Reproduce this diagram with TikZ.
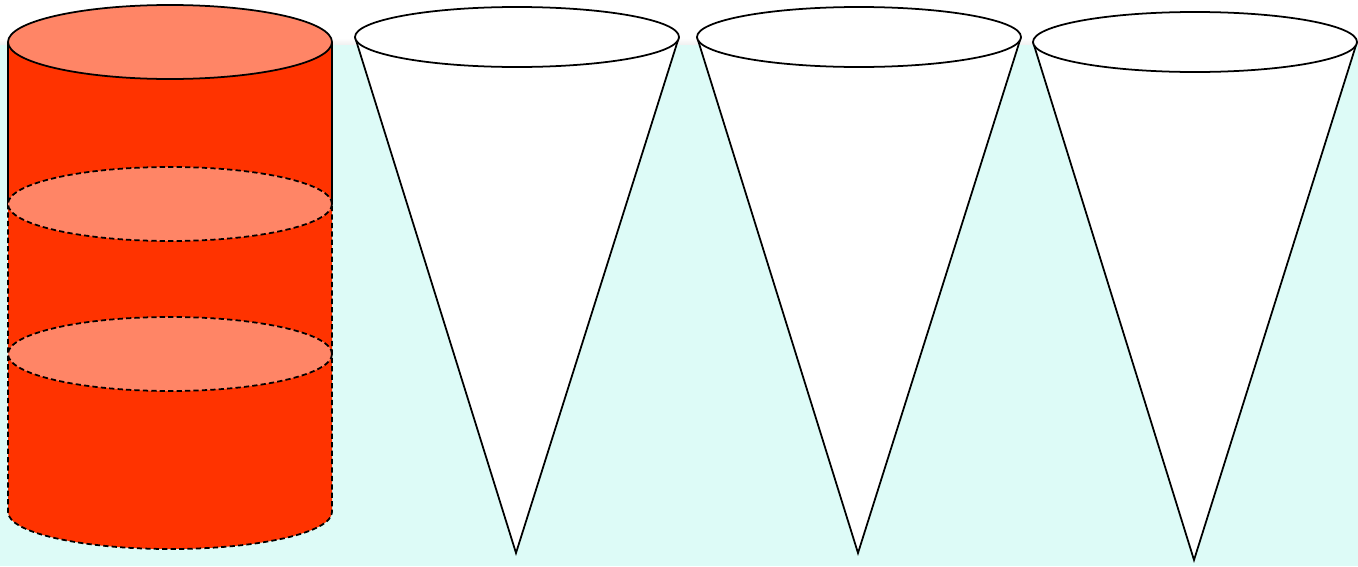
\documentclass[tikz,border=0pt]{standalone}
\definecolor{bgcyan}{HTML}{DDFBF7}
\definecolor{bodyred}{HTML}{FF3300}
\definecolor{capred}{HTML}{FF8566}
\begin{document}
\begin{tikzpicture}[
  x=0.02cm, y=0.02cm,
  outline/.style={draw=black,line width=1pt},
  cutline/.style={outline,dash pattern=on 3pt off 1.8pt},
  topcap/.style={outline,fill=capred},
  cone/.style={outline,fill=white,line join=miter}]
% background
\fill[white] (0,0) rectangle (1358,566);
\shade[top color=white,bottom color=gray!12] (0,528) rectangle (1358,521);
\fill[bgcyan] (0,0) rectangle (1358,521);
% cylinder
\fill[bodyred] (8,524) -- (8,54) arc[start angle=180,end angle=360,x radius=162,y radius=37]
  -- (332,524) -- cycle;
\draw[outline] (8,524) -- (8,362) (332,524) -- (332,362);
\draw[cutline] (8,362) -- (8,54) arc[start angle=180,end angle=360,x radius=162,y radius=37]
  -- (332,362);
\draw[cutline,fill=capred] (170,212) ellipse[x radius=162,y radius=37];
\draw[cutline,fill=capred] (170,362) ellipse[x radius=162,y radius=37];
\draw[topcap] (170,524) ellipse[x radius=162,y radius=37];
% cones
\draw[cone] (355,529) -- (516,13) -- (679,529);
\draw[cone] (517,529) ellipse[x radius=162,y radius=30];
\draw[cone] (697,529) -- (858,13) -- (1021,529);
\draw[cone] (859,529) ellipse[x radius=162,y radius=30];
\draw[cone] (1033,524) -- (1194,6) -- (1357,524);
\draw[cone] (1195,524) ellipse[x radius=162,y radius=30];
\end{tikzpicture}
\end{document}
